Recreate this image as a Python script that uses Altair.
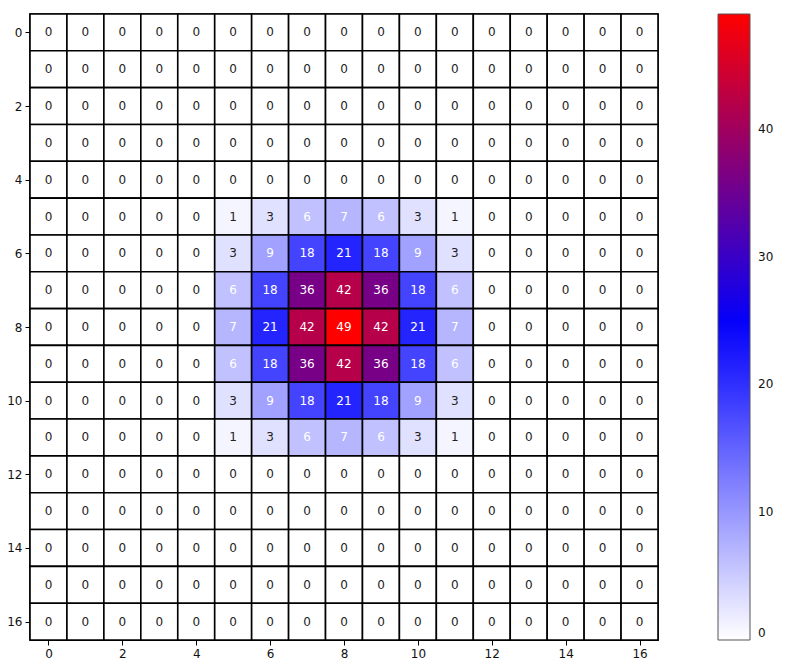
import altair as alt
import pandas as pd

# grid values (rows top to bottom, columns left to right)
z = [0] * 17
r5 = [0, 0, 0, 0, 0, 1, 3, 6, 7, 6, 3, 1, 0, 0, 0, 0, 0]
r6 = [0, 0, 0, 0, 0, 3, 9, 18, 21, 18, 9, 3, 0, 0, 0, 0, 0]
r7 = [0, 0, 0, 0, 0, 6, 18, 36, 42, 36, 18, 6, 0, 0, 0, 0, 0]
r8 = [0, 0, 0, 0, 0, 7, 21, 42, 49, 42, 21, 7, 0, 0, 0, 0, 0]
grid = [z, z, z, z, z, r5, r6, r7, r8, r7, r6, r5, z, z, z, z, z]
tick_vals = [0, 2, 4, 6, 8, 10, 12, 14, 16]
cbar_ticks = [0, 10, 20, 30, 40]

records = []
for r, row in enumerate(grid):
    for c, v in enumerate(row):
        records.append(dict(row=r, col=c, value=v,
                            x0=c - 0.5, x1=c + 0.5, y0=r - 0.5, y1=r + 0.5))
df = pd.DataFrame(records)

xs = alt.Scale(domain=[-0.5, 16.5], nice=False, zero=False)
ys = alt.Scale(domain=[-0.5, 16.5], nice=False, zero=False, reverse=True)
xaxis = alt.Axis(values=tick_vals, title=None, labelAngle=0, grid=False, format="d")
yaxis = alt.Axis(values=tick_vals, title=None, grid=False, format="d")

base = alt.Chart(df)
cells = base.mark_rect(stroke="black", strokeWidth=1.6).encode(
    x=alt.X("x0:Q", scale=xs, axis=xaxis),
    x2="x1:Q",
    y=alt.Y("y0:Q", scale=ys, axis=yaxis),
    y2="y1:Q",
    color=alt.Color(
        "value:Q",
        scale=alt.Scale(domain=[0, 24.5, 49], range=["#ffffff", "#0000ff", "#ff0000"], interpolate="rgb"),
        legend=alt.Legend(orient="none", legendX=688, legendY=0, direction="vertical",
                          gradientLength=626, gradientThickness=32, title=None,
                          values=cbar_ticks, gradientStrokeColor="#555555",
                          gradientStrokeWidth=1, labelFontSize=12, labelOffset=8,
                          labelColor="#111111", labelFont="DejaVu Sans"),
    ),
)
labels = base.mark_text(fontSize=12, font="DejaVu Sans").encode(
    x=alt.X("col:Q", scale=xs, axis=xaxis),
    y=alt.Y("row:Q", scale=ys, axis=yaxis),
    text=alt.Text("value:Q"),
    color=alt.condition(alt.datum.value > 5, alt.value("white"), alt.value("#222222")),
)

chart = (cells + labels).properties(
    width=628, height=626,
    autosize=alt.AutoSizeParams(type="none"),
    padding={"left": 30, "top": 14, "right": 127, "bottom": 28},
).configure_view(stroke="black", strokeWidth=1.5).configure_axis(
    domainColor="black", tickColor="black", labelColor="#111111",
    labelFont="DejaVu Sans", labelFontSize=12, tickSize=5, labelPadding=3,
)

chart.save("out.html", embed_options={"renderer": "svg", "actions": False})
